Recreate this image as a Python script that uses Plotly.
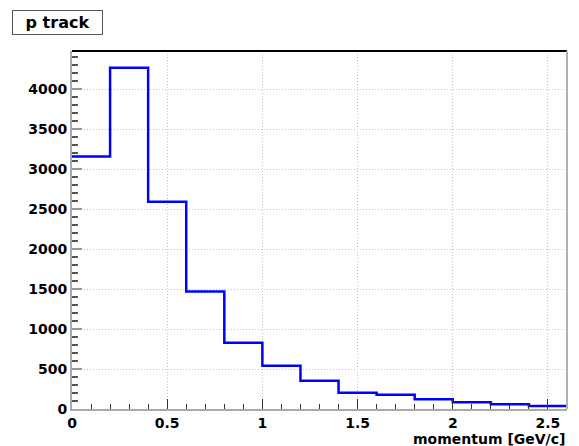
import plotly.graph_objects as go

bin_edges = [0.0, 0.2, 0.4, 0.6, 0.8, 1.0, 1.2, 1.4, 1.6, 1.8, 2.0, 2.2, 2.4, 2.6]
counts = [3155, 4266, 2590, 1470, 829, 541, 354, 204, 179, 121, 84, 59, 37]
title_text = "p track"
x_title = "momentum [GeV/c]"
x_ticks = [0, 0.5, 1, 1.5, 2, 2.5]
x_ticklabels = ["0", "0.5", "1", "1.5", "2", "2.5"]
y_ticks = [0, 500, 1000, 1500, 2000, 2500, 3000, 3500, 4000]

ys = counts + [counts[-1]]

fig = go.Figure()
fig.add_trace(go.Scatter(x=bin_edges, y=ys, mode="lines", line_shape="hv",
                         line=dict(color="#0000ff", width=2.5), showlegend=False,
                         hoverinfo="skip"))

FAM = "DejaVu Sans, sans-serif"
font_main = dict(family=FAM, size=14, color="black", weight="bold")

PH = 446 - 51 - 37

fig.update_layout(
    width=579, height=446,
    margin=dict(l=72, r=12, t=51, b=37),
    paper_bgcolor="white", plot_bgcolor="white",
    font=font_main,
    xaxis=dict(range=[0, 2.6], tickvals=x_ticks, ticktext=x_ticklabels,
               ticks="inside", ticklen=10, tickcolor="#333", tickwidth=1,
               showline=True, linecolor="#aaaaaa", linewidth=2, mirror=False,
               showgrid=True, gridcolor="#c4c4c4", griddash="1px,2px", gridwidth=1,
               minor=dict(dtick=0.1, ticks="inside", ticklen=5, tickcolor="#333", showgrid=False),
               tickfont=font_main, zeroline=False, fixedrange=True),
    yaxis=dict(range=[0, 4475], tickvals=y_ticks,
               ticks="inside", ticklen=10, tickcolor="#999", tickwidth=2,
               showline=True, linecolor="#aaaaaa", linewidth=2,
               showgrid=True, gridcolor="#c4c4c4", griddash="1px,2px", gridwidth=1,
               minor=dict(dtick=100, ticks="inside", ticklen=6, tickcolor="#555", showgrid=False),
               tickfont=font_main, zeroline=False, fixedrange=True),
    shapes=[
        dict(type="line", xref="paper", yref="paper", x0=0, x1=1, y0=1, y1=1,
             line=dict(color="black", width=2)),
        dict(type="line", xref="paper", yref="paper", x0=1, x1=1, y0=0, y1=1,
             line=dict(color="#b0b0b0", width=2)),
    ],
    annotations=[
        dict(text=title_text, xref="paper", yref="paper",
             x=(12 - 72) / 495, y=1 + (51 - 10) / PH,
             xanchor="left", yanchor="top", showarrow=False,
             font=dict(family=FAM, size=16, color="black", weight="bold"),
             bordercolor="#555", borderwidth=1, borderpad=2, bgcolor="white",
             width=85),
        dict(text=x_title, xref="paper", yref="paper", x=1, y=-(429 - 409) / PH,
             xanchor="right", yanchor="top", showarrow=False,
             font=dict(family=FAM, size=14, color="black", weight="bold")),
    ],
)

fig.write_html("out.html")
